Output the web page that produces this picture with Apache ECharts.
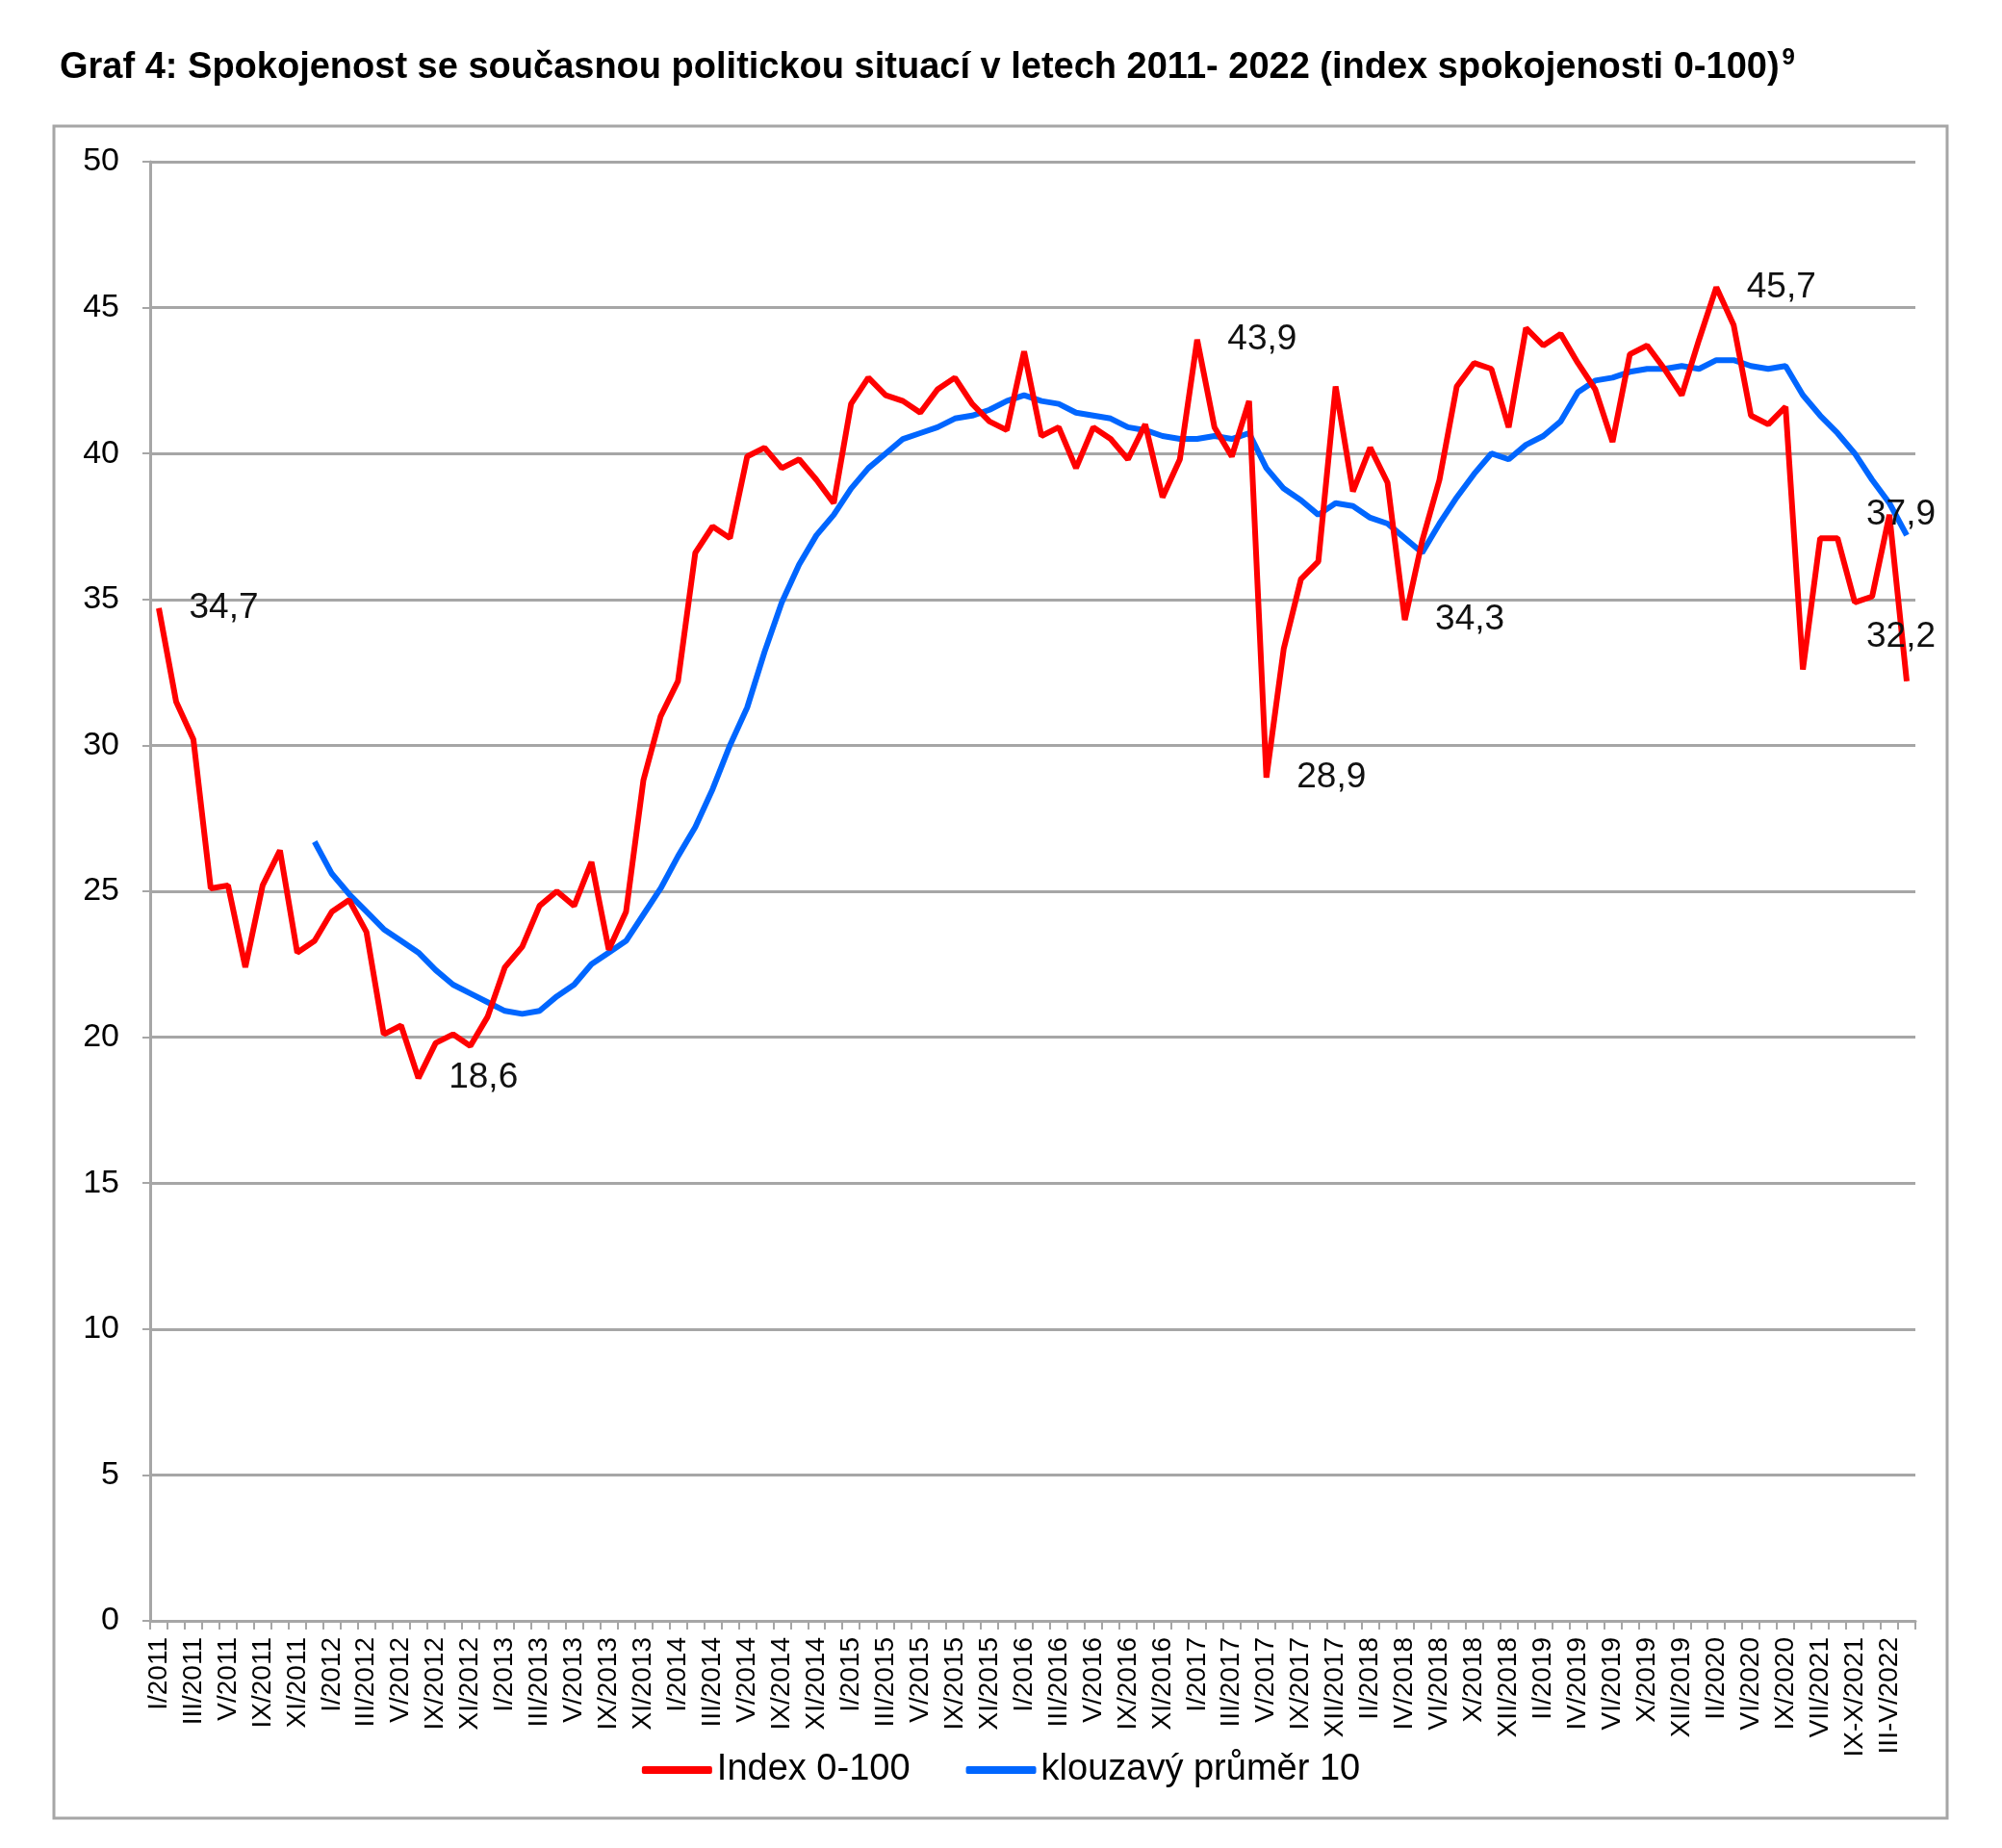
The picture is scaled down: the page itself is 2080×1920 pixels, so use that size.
<!DOCTYPE html>
<html>
<head>
<meta charset="utf-8">
<script src="https://cdn.jsdelivr.net/npm/echarts@6/dist/echarts.min.js"></script>
<style>
  html, body { margin: 0; padding: 0; background: #fff; }
  #chart { width: 2080px; height: 1920px; }
</style>
</head>
<body>
<div id="chart"></div>
<script>
// months of the CVVM surveys, one category each
var months = [
  'I/2011', 'II/2011', 'III/2011', 'IV/2011', 'V/2011', 'VI/2011', 'IX/2011', 'X/2011', 'XI/2011', 'XII/2011',
  'I/2012', 'II/2012', 'III/2012', 'IV/2012', 'V/2012', 'VI/2012', 'IX/2012', 'X/2012', 'XI/2012', 'XII/2012',
  'I/2013', 'II/2013', 'III/2013', 'IV/2013', 'V/2013', 'VI/2013', 'IX/2013', 'X/2013', 'XI/2013', 'XII/2013',
  'I/2014', 'II/2014', 'III/2014', 'IV/2014', 'V/2014', 'VI/2014', 'IX/2014', 'X/2014', 'XI/2014', 'XII/2014',
  'I/2015', 'II/2015', 'III/2015', 'IV/2015', 'V/2015', 'VI/2015', 'IX/2015', 'X/2015', 'XI/2015', 'XII/2015',
  'I/2016', 'II/2016', 'III/2016', 'IV/2016', 'V/2016', 'VI/2016', 'IX/2016', 'X/2016', 'XI/2016', 'XII/2016',
  'I/2017', 'II/2017', 'III/2017', 'IV/2017', 'V/2017', 'VI/2017', 'IX/2017', 'X/2017', 'XII/2017',
  'I/2018', 'II/2018', 'III/2018', 'IV/2018', 'V/2018', 'VI/2018', 'IX/2018', 'X/2018', 'XI/2018', 'XII/2018',
  'I/2019', 'II/2019', 'III/2019', 'IV/2019', 'V/2019', 'VI/2019', 'IX/2019', 'X/2019', 'XI/2019', 'XII/2019',
  'I/2020', 'II/2020', 'V/2020', 'VI/2020', 'VIII/2020', 'IX/2020',
  'V-VI/2021', 'VII/2021', 'VIII/2021', 'IX-X/2021', 'XI-XII/2021', 'III-V/2022', 'VI/2022'
];

var indexValues = [
  34.7, 31.5, 30.2, 25.1, 25.2, 22.4, 25.2, 26.4, 22.9, 23.3,
  24.3, 24.7, 23.6, 20.1, 20.4, 18.6, 19.8, 20.1, 19.7, 20.7,
  22.4, 23.1, 24.5, 25.0, 24.5, 26.0, 23.0, 24.3, 28.8, 31.0,
  32.2, 36.6, 37.5, 37.1, 39.9, 40.2, 39.5, 39.8, 39.1, 38.3,
  41.7, 42.6, 42.0, 41.8, 41.4, 42.2, 42.6, 41.7, 41.1, 40.8,
  43.5, 40.6, 40.9, 39.5, 40.9, 40.5, 39.8, 41.0, 38.5, 39.8,
  43.9, 40.9, 39.9, 41.8, 28.9, 33.3, 35.7, 36.3, 42.3,
  38.7, 40.2, 39.0, 34.3, 37.0, 39.1, 42.3, 43.1, 42.9, 40.9,
  44.3, 43.7, 44.1, 43.1, 42.2, 40.4, 43.4, 43.7, 42.9, 42.0,
  43.9, 45.7, 44.4, 41.3, 41.0, 41.6,
  32.6, 37.1, 37.1, 34.9, 35.1, 37.9, 32.2
];

var movingAvg = [
  null, null, null, null, null, null, null, null, null, 26.7,
  25.6, 24.9, 24.3, 23.7, 23.3, 22.9, 22.3, 21.8, 21.5, 21.2,
  20.9, 20.8, 20.9, 21.4, 21.8, 22.5, 22.9, 23.3, 24.2, 25.1,
  26.2, 27.2, 28.5, 30.0, 31.3, 33.2, 34.9, 36.2, 37.2, 37.9,
  38.8, 39.5, 40.0, 40.5, 40.7, 40.9, 41.2, 41.3, 41.5, 41.8,
  42.0, 41.8, 41.7, 41.4, 41.3, 41.2, 40.9, 40.8, 40.6, 40.5,
  40.5, 40.6, 40.5, 40.7, 39.5, 38.8, 38.4, 37.9, 38.3,
  38.2, 37.8, 37.6, 37.1, 36.6, 37.6, 38.5, 39.3, 40.0, 39.8,
  40.3, 40.6, 41.1, 42.1, 42.5, 42.6, 42.8, 42.9, 42.9, 43.0,
  42.9, 43.2, 43.2, 43.0, 42.9, 43.0,
  42.0, 41.3, 40.7, 40.0, 39.1, 38.3, 37.2
];

// points of the index that carry a value label
var labelled = [0, 15, 60, 64, 72, 90, 100, 101];

var yTicks = { min: 0, max: 50, step: 5 };

var font = 'Liberation Sans, Arial, sans-serif';
var red = '#ff0000';
var blue = '#0066ff';
var grey = '#a6a6a6';

// where each value label sits against its point
var labelPlace = {
  100: { position: 'inside', offset: [12, 0] },
  101: { position: 'inside', offset: [-6, -46] }
};

var redData = indexValues.map(function(v, i) {
  if (labelled.indexOf(i) < 0) return v;
  var place = labelPlace[i] || { position: 'right', distance: 31 };
  return {
    value: v,
    label: Object.assign({
      show: true,
      fontSize: 37,
      fontFamily: font,
      color: '#111',
      formatter: function(p) { return String(p.value).replace('.', ','); }
    }, place)
  };
});

var chart = echarts.init(document.getElementById('chart'));

chart.setOption({
  animation: false,
  backgroundColor: '#fff',
  title: {
    text: '{a|Graf 4: Spokojenost se současnou politickou situací v letech 2011- 2022 (index spokojenosti 0-100)}{b|9}',
    left: 57,
    top: 43,
    textStyle: {
      rich: {
        a: { fontSize: 38, fontWeight: 'bold', fontFamily: font, color: '#000', lineHeight: 46 },
        b: { fontSize: 24, fontWeight: 'bold', fontFamily: font, color: '#000', verticalAlign: 'top', lineHeight: 46, padding: [0, 0, 0, 3] }
      }
    }
  },
  graphic: [{
    type: 'rect',
    shape: { x: 56, y: 131, width: 1967, height: 1758 },
    style: { fill: 'none', stroke: grey, lineWidth: 3 },
    silent: true
  }],
  legend: {
    data: ['Index 0-100', 'klouzavý průměr 10'],
    left: 'center',
    top: 1815,
    icon: 'roundRect',
    itemWidth: 73,
    itemHeight: 8,
    itemGap: 58,
    textStyle: { fontSize: 38, fontFamily: font, color: '#000' }
  },
  grid: { left: 156, right: 90, top: 168, bottom: 236 },
  xAxis: {
    type: 'category',
    data: months,
    boundaryGap: true,
    axisLine: { lineStyle: { color: grey, width: 3 } },
    axisTick: { show: true, interval: 0, length: 9, lineStyle: { color: grey, width: 2 } },
    axisLabel: {
      interval: 1,
      rotate: 90,
      margin: 17,
      fontSize: 28,
      fontFamily: font,
      color: '#000'
    },
    splitLine: { show: false }
  },
  yAxis: {
    type: 'value',
    min: yTicks.min,
    max: yTicks.max,
    interval: yTicks.step,
    axisLine: { show: true, lineStyle: { color: grey, width: 3 } },
    axisTick: { show: true, length: 8, lineStyle: { color: grey, width: 2 } },
    axisLabel: { fontSize: 34, fontFamily: font, color: '#000', margin: 32 },
    splitLine: { lineStyle: { color: grey, width: 3 } }
  },
  series: [
    {
      name: 'Index 0-100',
      type: 'line',
      data: redData,
      symbol: 'circle',
      symbolSize: 1,
      showAllSymbol: true,
      itemStyle: { color: red },
      lineStyle: { color: red, width: 6 },
      z: 3
    },
    {
      name: 'klouzavý průměr 10',
      type: 'line',
      data: movingAvg,
      symbol: 'none',
      connectNulls: false,
      itemStyle: { color: blue },
      lineStyle: { color: blue, width: 6 },
      z: 2
    }
  ]
});
</script>
</body>
</html>
